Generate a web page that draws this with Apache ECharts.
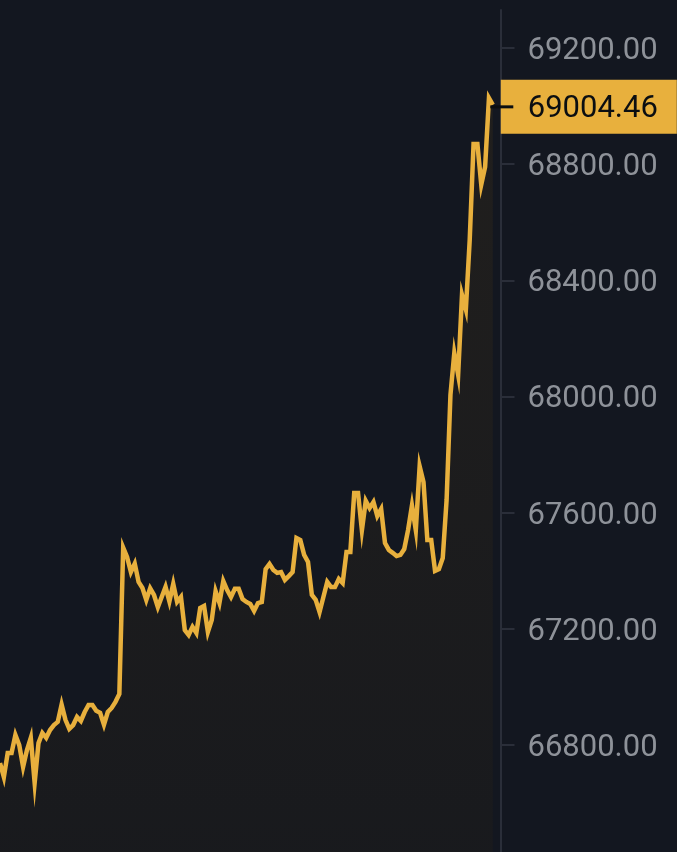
<!DOCTYPE html>
<html>
<head>
    <meta charset="utf-8">
    <title>Price</title>
    <script src="https://cdn.jsdelivr.net/npm/echarts@6/dist/echarts.min.js"></script>
    <style>
        html, body { margin: 0; padding: 0; background: #131720; }
    </style>
</head>
<body>
<div id="main" style="width: 677px;height:852px;"></div>
<script type="text/javascript">
    var prices = [
        66738, 66690, 66773, 66773, 66835, 66800, 66725, 66783, 66825, 66670,
        66807, 66842, 66825, 66852, 66869, 66880, 66940, 66887, 66856, 66869,
        66897, 66883, 66914, 66938, 66938, 66918, 66911, 66870, 66914, 66928,
        66949, 66976, 67480, 67448, 67396, 67425, 67362, 67341, 67300, 67340,
        67317, 67275, 67310, 67345, 67295, 67355, 67293, 67310, 67196, 67179,
        67207, 67186, 67272, 67279, 67190, 67231, 67330, 67290, 67365, 67334,
        67310, 67338, 67338, 67303, 67293, 67286, 67262, 67289, 67293, 67406,
        67424, 67403, 67393, 67396, 67369, 67382, 67396, 67513, 67506, 67455,
        67431, 67317, 67300, 67258, 67310, 67362, 67344, 67344, 67372, 67358,
        67465, 67465, 67668, 67668, 67540, 67641, 67616, 67637, 67589, 67613,
        67496, 67472, 67462, 67451, 67455, 67475, 67541, 67625, 67540, 67760,
        67706, 67506, 67506, 67400, 67406, 67444, 67644, 68006, 68150, 68075,
        68350, 68300, 68539, 68870, 68870, 68730, 68791, 69028, 69004.46
    ];
    var tickValues = [66800, 67200, 67600, 68000, 68400, 68800, 69200];
    var categories = [];
    for (var i = 0; i < 131; i++) {
        categories.push(i);
    }
    var lastIndex = prices.length - 1;
    var lastPrice = prices[lastIndex];

    var myChart = echarts.init(document.getElementById('main'));
    var option = {
        animation: false,
        backgroundColor: '#131720',
        grid: { left: 0, width: 500.5, top: 10, bottom: 0 },
        xAxis: {
            type: 'category',
            data: categories,
            boundaryGap: false,
            show: false
        },
        yAxis: {
            type: 'value',
            position: 'right',
            min: 66432,
            max: 69331,
            splitLine: { show: false },
            axisLine: { show: true, onZero: false, lineStyle: { color: '#2a2e39', width: 2 } },
            axisTick: { show: true, length: 14, customValues: tickValues, lineStyle: { color: '#2a2e39', width: 2 } },
            axisLabel: {
                show: true,
                customValues: tickValues,
                margin: 27,
                formatter: function (v) { return '{v|' + v.toFixed(2) + '}'; },
                rich: {
                    v: {
                        padding: [6, 0, 0, 0],
                        color: '#8e9299',
                        fontFamily: 'Roboto',
                        fontSize: 31
                    }
                }
            }
        },
        series: [{
            type: 'line',
            data: prices,
            showSymbol: false,
            clip: false,
            lineStyle: { color: '#e8b03d', width: 4.5, join: 'miter', miterLimit: 20 },
            areaStyle: {
                color: new echarts.graphic.LinearGradient(0, 0, 0, 1, [
                    { offset: 0, color: '#26221c' },
                    { offset: 1, color: '#1b1b1c' }
                ])
            },
            markPoint: {
                silent: true,
                animation: false,
                z: 10,
                data: [{
                    coord: [lastIndex, lastPrice],
                    symbol: 'rect',
                    symbolSize: [176, 54],
                    symbolOffset: [96, 2],
                    itemStyle: { color: '#e8b03d' },
                    label: {
                        show: true,
                        position: 'inside',
                        offset: [4, 2],
                        formatter: lastPrice.toFixed(2),
                        color: '#0b0e11',
                        fontFamily: 'Roboto',
                        fontSize: 31
                    }
                }, {
                    coord: [lastIndex, lastPrice],
                    symbol: 'rect',
                    symbolSize: [23, 3],
                    symbolOffset: [9, 2],
                    itemStyle: { color: '#0b0e11' },
                    label: { show: false }
                }]
            }
        }]
    };
    myChart.setOption(option);
</script>
</body>
</html>
